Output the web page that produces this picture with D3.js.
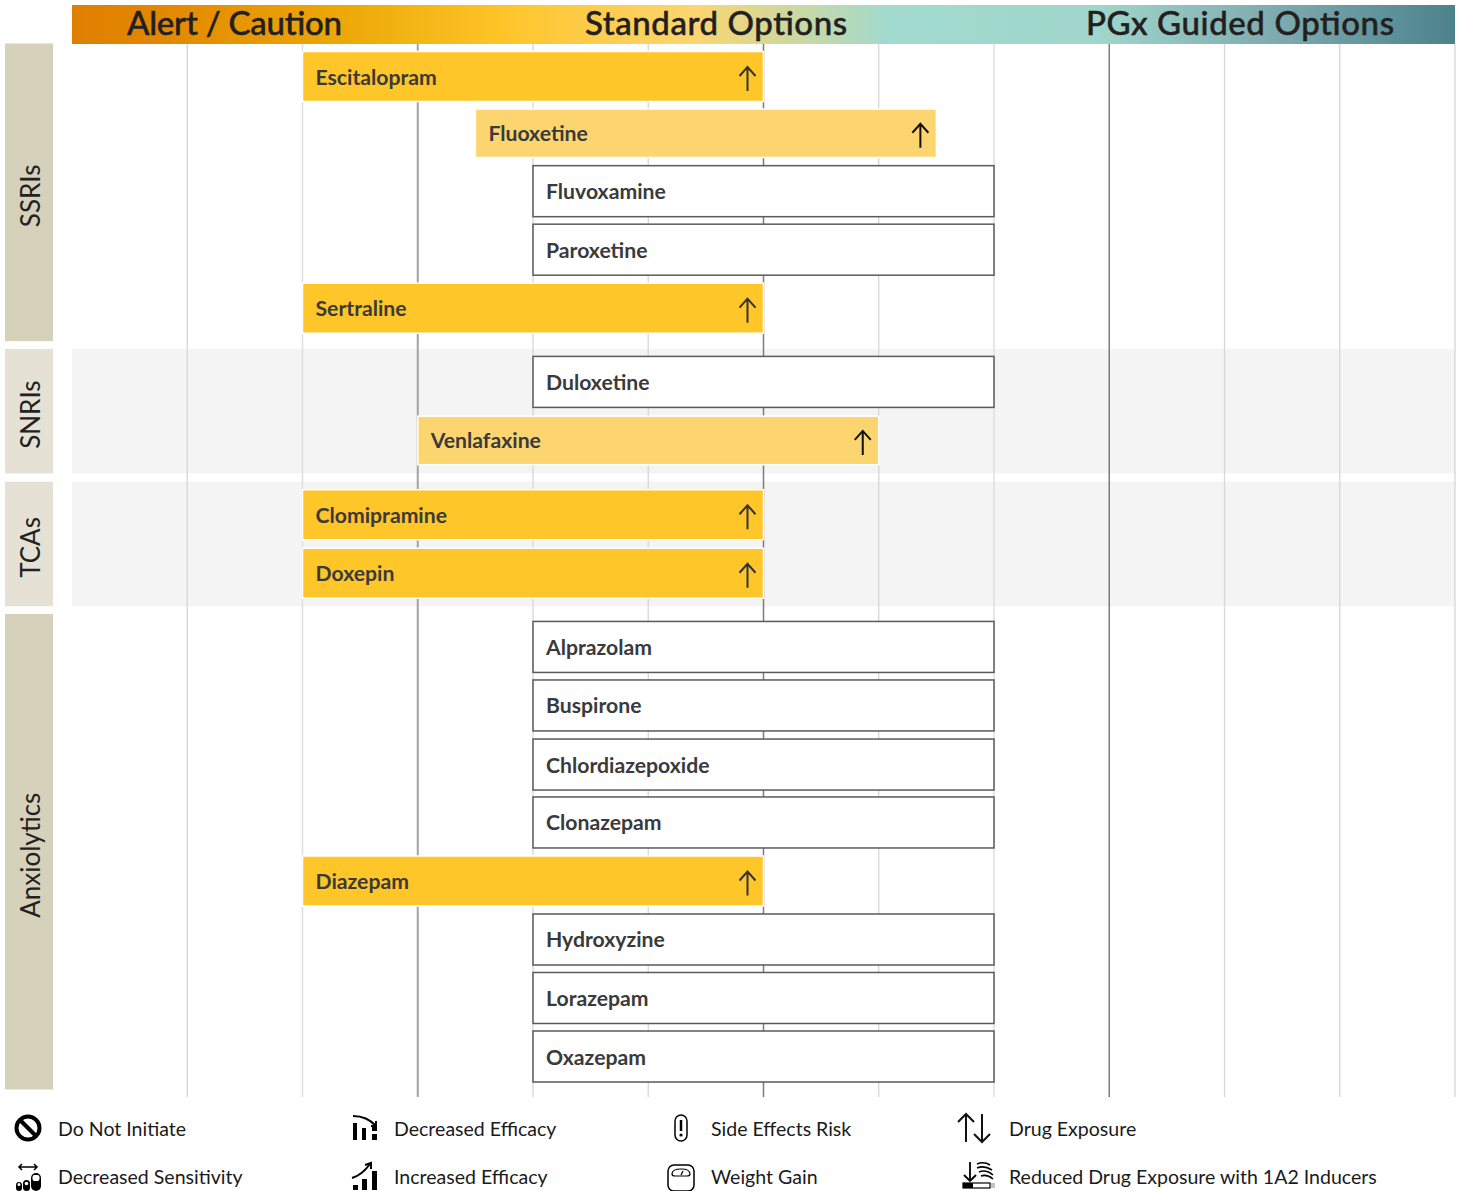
<!DOCTYPE html>
<html>
<head>
<meta charset="utf-8">
<script src="https://cdn.jsdelivr.net/npm/d3@7"></script>
<style>
    html, body { margin: 0; padding: 0; background: #fff; }
    svg { display: block; }
    text { font-family: Lato, "Open Sans", sans-serif; }
</style>
</head>
<body>
<div id="chart"></div>
<script>
///////////////////////////
// DATA
///////////////////////////

const drugs = [
    'Escitalopram', 'Fluoxetine', 'Fluvoxamine', 'Paroxetine', 'Sertraline',
    'Duloxetine', 'Venlafaxine',
    'Clomipramine', 'Doxepin',
    'Alprazolam', 'Buspirone', 'Chlordiazepoxide', 'Clonazepam',
    'Diazepam', 'Hydroxyzine', 'Lorazepam', 'Oxazepam'
];
const drugClass = [
    'SSRIs', 'SSRIs', 'SSRIs', 'SSRIs', 'SSRIs',
    'SNRIs', 'SNRIs',
    'TCAs', 'TCAs',
    'Anxiolytics', 'Anxiolytics', 'Anxiolytics', 'Anxiolytics',
    'Anxiolytics', 'Anxiolytics', 'Anxiolytics', 'Anxiolytics'
];
// row positions, in row units
const rowPos = [
    0, 0.97, 1.96, 2.96, 3.96,
    5.22, 6.22,
    7.49, 8.49,
    9.75, 10.75, 11.76, 12.75,
    13.75, 14.75, 15.75, 16.75
];
const barStart = [2, 3.5, 4, 4, 2, 4, 3, 2, 2, 4, 4, 4, 4, 2, 4, 4, 4];
const barEnd = [6, 7.5, 8, 8, 6, 8, 7, 6, 6, 8, 8, 8, 8, 6, 8, 8, 8];
const barKind = [
    'strong', 'light', 'plain', 'plain', 'strong',
    'plain', 'light',
    'strong', 'strong',
    'plain', 'plain', 'plain', 'plain',
    'strong', 'plain', 'plain', 'plain'
];
const classes = ['SSRIs', 'SNRIs', 'TCAs', 'Anxiolytics'];
const headerLabels = ['Alert / Caution', 'Standard Options', 'PGx Guided Options'];
const legendLabels = [
    'Do Not Initiate', 'Decreased Sensitivity',
    'Decreased Efficacy', 'Increased Efficacy',
    'Side Effects Risk', 'Weight Gain',
    'Drug Exposure', 'Reduced Drug Exposure with 1A2 Inducers'
];
const gridTicks = d3.range(1, 13);
const darkTicks = [3, 6, 9];

///////////////////////////
// SCALES
///////////////////////////

const width = 1459;
const height = 1191;

const x = d3.scaleLinear().domain([0, 12]).range([72, 1455]);
const y = d3.scaleLinear().domain([0, 16.75]).range([76.5, 1056.5]);

const svg = d3.select('#chart')
    .append('svg')
    .attr('width', width)
    .attr('height', height);

const defs = svg.append('defs');
const grad = defs.append('linearGradient').attr('id', 'headerGrad');
[
    [0, '#df7f00'], [0.06, '#e28700'], [0.2, '#eca908'], [0.31, '#fec428'],
    [0.45, '#fcd570'], [0.59, '#a1dace'], [0.74, '#a0d6cb'], [0.87, '#7eabaf'], [1, '#4c828d']
].forEach((s) => {
    grad.append('stop').attr('offset', s[0]).attr('stop-color', s[1]);
});

///////////////////////////
// CLASS BANDS
///////////////////////////

const classBox = classes.map((c, k) => {
    const rows = rowPos.filter((p, i) => drugClass[i] === c);
    return {
        name: c,
        shaded: k === 1 || k === 2,
        top: y(d3.min(rows)) - 33,
        bottom: y(d3.max(rows)) + 33
    };
});

svg.selectAll('.band')
    .data(classBox.filter((d) => d.shaded))
    .enter().append('rect')
    .attr('class', 'band')
    .attr('x', x(0))
    .attr('y', (d) => d.top)
    .attr('width', x(12) - x(0))
    .attr('height', (d) => d.bottom - d.top)
    .style('fill', '#f4f4f4');

///////////////////////////
// GRID (axis ticks run full height)
///////////////////////////

const grid = svg.append('g')
    .attr('transform', 'translate(0,1097)')
    .call(d3.axisBottom(x).tickValues(gridTicks).tickSize(-1054).tickFormat('').offset(0));
grid.select('.domain').remove();
grid.selectAll('.tick line')
    .style('stroke', (d) => {
        if (d === 3) return '#a3a3a3';
        if (darkTicks.includes(d)) return '#7c7c7c';
        return (d === 2 || d === 8) ? '#e0e0e0' : '#d6d6d6';
    })
    .style('stroke-width', (d) => {
        if (d === 3) return 2;
        if (d === 2 || d === 8) return 1.6;
        return darkTicks.includes(d) ? 1.5 : 1.3;
    });

///////////////////////////
// HEADER
///////////////////////////

svg.append('rect')
    .attr('x', x(0))
    .attr('y', 5)
    .attr('width', x(12) - x(0))
    .attr('height', 39)
    .style('fill', 'url(#headerGrad)');

const headerX = [127, 585, 1086];
const headerLen = [215, 262, 308];
svg.selectAll('.header')
    .data(headerLabels)
    .enter().append('text')
    .attr('class', 'header')
    .attr('x', (d, i) => headerX[i])
    .attr('y', 35)
    .attr('textLength', (d, i) => headerLen[i])
    .attr('lengthAdjust', 'spacing')
    .style('font-size', '33px')
    .style('font-weight', 500)
    .style('fill', '#231f20')
    .style('stroke', '#231f20')
    .style('stroke-width', 0.5)
    .text((d) => d);

///////////////////////////
// CLASS LABEL BOXES
///////////////////////////

svg.selectAll('.classBox')
    .data(classBox)
    .enter().append('rect')
    .attr('class', 'classBox')
    .attr('x', 5)
    .attr('y', (d) => d.top)
    .attr('width', 48)
    .attr('height', (d) => d.bottom - d.top)
    .style('fill', (d) => d.shaded ? '#e5e2d5' : '#d6d1ba');

svg.selectAll('.classLabel')
    .data(classBox)
    .enter().append('text')
    .attr('class', 'classLabel')
    .attr('transform', (d) => `translate(40,${(d.top + d.bottom) / 2 + 3.5}) rotate(-90)`)
    .attr('text-anchor', 'middle')
    .style('font-size', '26px')
    .style('fill', '#222')
    .text((d) => d.name);

///////////////////////////
// BARS
///////////////////////////

const barFill = { strong: '#ffc629', light: '#fcd570', plain: '#fff' };
const barHeight = { strong: 50, light: 48.5, plain: 51 };
const bars = drugs.map((name, i) => ({
    name: name,
    pos: rowPos[i],
    start: barStart[i],
    end: barEnd[i],
    kind: barKind[i]
}));

const bar = svg.selectAll('.bar')
    .data(bars)
    .enter().append('g')
    .attr('class', 'bar');

bar.append('rect')
    .attr('x', (d) => x(d.start))
    .attr('y', (d) => y(d.pos) - barHeight[d.kind] / 2)
    .attr('width', (d) => x(d.end) - x(d.start))
    .attr('height', (d) => barHeight[d.kind])
    .style('fill', (d) => barFill[d.kind])
    .style('stroke', (d) => d.kind === 'plain' ? '#5a5a5a' : '#fff')
    .style('stroke-width', 1.5);

bar.append('text')
    .attr('x', (d) => x(d.start) + 13)
    .attr('y', (d) => y(d.pos) + 8)
    .style('font-size', '21.2px')
    .style('font-weight', 700)
    .style('fill', '#3a3a3a')
    .text((d) => d.name);

// up arrow sitting near the right end of the coloured bars
bar.filter((d) => d.kind !== 'plain')
    .append('path')
    .attr('transform', (d) => `translate(${x(d.end) - 16},${y(d.pos) + 2.5})`)
    .attr('d', 'M0,12 V-12 M-8,-3 L0,-12 L8,-3')
    .style('fill', 'none')
    .style('stroke', (d) => d.kind === 'light' ? '#111' : '#333')
    .style('stroke-width', 2);

///////////////////////////
// LEGEND
///////////////////////////

const legendColX = [58, 394, 711, 1009];
const legendRowY = [1129, 1177];
const legendIconX = [28, 365, 681, 974];

const icons = [
    // do not initiate
    (g) => {
        g.append('circle').attr('r', 11.5).style('fill', 'none').style('stroke', '#000').style('stroke-width', 4);
        g.append('path').attr('d', 'M-8,-8 L8,8').style('stroke', '#000').style('stroke-width', 4);
    },
    // decreased sensitivity: arrow over three capsules
    (g) => {
        g.append('path').attr('d', 'M-9,-11 H9 M-6,-14 L-9,-11 L-6,-8 M6,-14 L9,-11 L6,-8').style('fill', 'none').style('stroke', '#000').style('stroke-width', 1.5);
        g.append('rect').attr('x', -12).attr('y', 4).attr('width', 6).attr('height', 9).attr('rx', 3).style('fill', '#000');
        g.append('rect').attr('x', -5).attr('y', 2).attr('width', 7).attr('height', 11).attr('rx', 3.5).style('fill', '#000');
        g.append('rect').attr('x', 3).attr('y', -5).attr('width', 10).attr('height', 18).attr('rx', 5).style('fill', '#000');
        g.append('rect').attr('x', 4.5).attr('y', -3).attr('width', 7).attr('height', 6).attr('rx', 2).style('fill', '#fff');
        g.append('circle').attr('cx', -9).attr('cy', 6.5).attr('r', 1.5).style('fill', '#fff');
        g.append('circle').attr('cx', -1.5).attr('cy', 5.5).attr('r', 1.8).style('fill', '#fff');
    },
    // decreased efficacy
    (g) => {
        g.append('path').attr('d', 'M-12,12 V-5 H-8 V12 Z M-3,12 V0 H1 V12 Z M7,12 V6 H12 V12 Z M7,3 V-1 H12 V3 Z').style('fill', '#000');
        g.append('path').attr('d', 'M-12,-12 Q2,-12 11,-2 M11,-7 V-2 H6').style('fill', 'none').style('stroke', '#000').style('stroke-width', 2);
    },
    // increased efficacy
    (g) => {
        g.append('path').attr('d', 'M-12,12 V7 H-7 V12 Z M-3,12 V1 H2 V12 Z M7,12 V-7 H12 V12 Z').style('fill', '#000');
        g.append('path').attr('d', 'M-13,0 Q-3,-3 5,-14 M0,-13 L6,-15 L6,-9').style('fill', 'none').style('stroke', '#000').style('stroke-width', 2);
    },
    // side effects risk
    (g) => {
        g.append('rect').attr('x', -6).attr('y', -13).attr('width', 12).attr('height', 26).attr('rx', 6).style('fill', 'none').style('stroke', '#000').style('stroke-width', 1.5);
        g.append('path').attr('d', 'M0,-8 V3').style('stroke', '#000').style('stroke-width', 2.5);
        g.append('circle').attr('cy', 7).attr('r', 1.6).style('fill', '#000');
    },
    // weight gain
    (g) => {
        g.append('rect').attr('x', -13).attr('y', -13).attr('width', 26).attr('height', 26).attr('rx', 6).style('fill', 'none').style('stroke', '#000').style('stroke-width', 1.5);
        g.append('path').attr('d', 'M-9,-4 Q-9,-9 0,-9 Q9,-9 9,-4 Q9,-2 6,-2 H-6 Q-9,-2 -9,-4 Z').style('fill', 'none').style('stroke', '#000').style('stroke-width', 1.2);
        g.append('path').attr('d', 'M0,-3 L2,-7').style('stroke', '#000').style('stroke-width', 1.2);
    },
    // drug exposure
    (g) => {
        g.append('path').attr('d', 'M-8,14 V-14 M-16,-6 L-8,-14 L0,-6 M8,-14 V14 M0,6 L8,14 L16,6').style('fill', 'none').style('stroke', '#111').style('stroke-width', 2);
    },
    // reduced exposure with inducers
    (g) => {
        g.append('path').attr('d', 'M-4,-16 V3 M-10,-3 L-4,3 L2,-3').style('fill', 'none').style('stroke', '#000').style('stroke-width', 1.8);
        g.append('path').attr('d', 'M3,-14 Q10,-17 16,-13 M3,-10 Q10,-13 18,-8 M5,-6 Q12,-9 19,-3 M7,-2 Q13,-4 19,1').style('fill', 'none').style('stroke', '#000').style('stroke-width', 1.6);
        g.append('rect').attr('x', -11).attr('y', 5).attr('width', 27).attr('height', 5).style('fill', 'none').style('stroke', '#000').style('stroke-width', 1.2);
        g.append('rect').attr('x', -11).attr('y', 5).attr('width', 10).attr('height', 5).style('fill', '#000');
        g.append('path').attr('d', 'M18,5 V10 M20,5 V10').style('stroke', '#888').style('stroke-width', 1);
    }
];

const legend = svg.selectAll('.legendItem')
    .data(legendLabels)
    .enter().append('g')
    .attr('class', 'legendItem');

legend.append('text')
    .attr('x', (d, i) => legendColX[Math.floor(i / 2)])
    .attr('y', (d, i) => legendRowY[i % 2] + 7)
    .style('font-size', '19.55px')
    .style('fill', '#1a1a1a')
    .text((d) => d);

legend.append('g')
    .attr('transform', (d, i) => `translate(${legendIconX[Math.floor(i / 2)]},${legendRowY[i % 2] - 1 + (i % 2 ? 2 : 0)})`)
    .each(function (d, i) { icons[i](d3.select(this)); });
</script>
</body>
</html>
